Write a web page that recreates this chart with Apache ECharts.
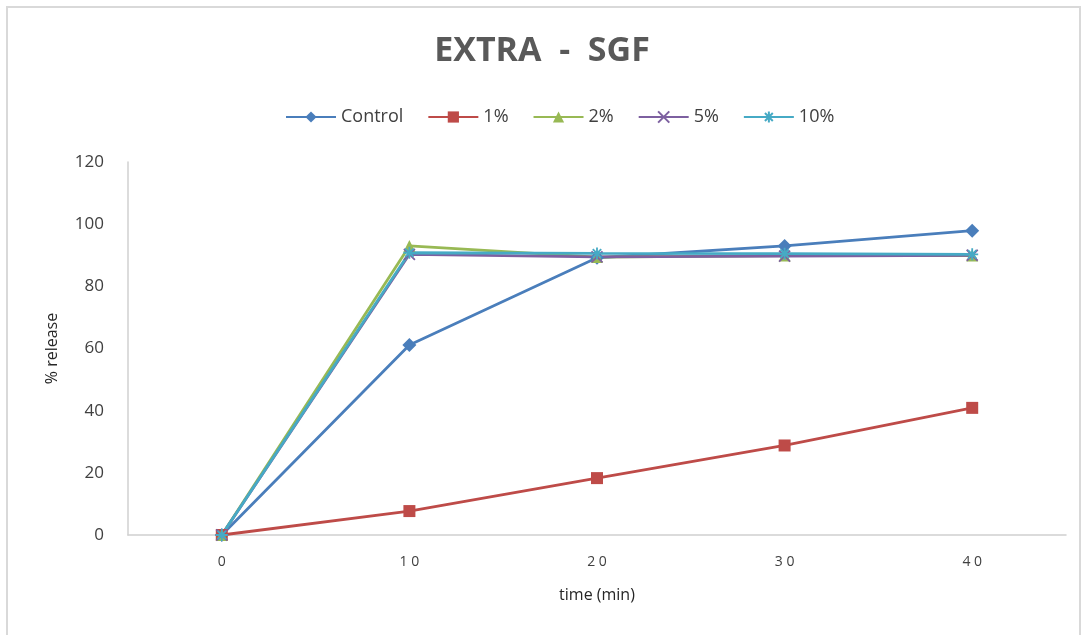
<!DOCTYPE html>
<html><head><meta charset="utf-8">
<script src="https://cdn.jsdelivr.net/npm/echarts@6/dist/echarts.min.js"></script>
<style>html,body{margin:0;padding:0;background:#fff}#c{width:1084px;height:635px}</style>
</head><body><div id="c"></div>
<script>
const categories = ['0', '1 0', '2 0', '3 0', '4 0'];
const yTicks = [0, 20, 40, 60, 80, 100, 120];
const control = [0, 61.1, 89.2, 93.0, 97.9];
const pct1 = [0, 7.7, 18.3, 28.8, 40.9];
const pct2 = [0, 93.0, 89.4, 89.9, 89.9];
const pct5 = [0, 90.3, 89.5, 89.7, 90.0];
const pct10 = [0, 90.8, 90.6, 90.5, 90.3];

const crossPath = 'path://M0,0 L10,10 M10,0 L0,10';
const starPath = 'path://M0,5 L10,5 M5,0 L5,10 M1.5,1.5 L8.5,8.5 M8.5,1.5 L1.5,8.5';

function mk(name, data, color, symbol, size, stroke) {
  return {
    name, type: 'line', data, symbol, symbolSize: size,
    lineStyle: { color, width: 2.8 },
    itemStyle: stroke ? { color: 'none', borderColor: color, borderWidth: 1.8 } : { color, borderColor: color, borderWidth: 0 },
    emphasis: { disabled: true }, animation: false
  };
}

const chart = echarts.init(document.getElementById('c'));
chart.setOption({
  backgroundColor: '#fff',
  animation: false,
  title: {
    text: 'EXTRA  -  SGF', left: 'center', top: 29,
    textStyle: { fontFamily: 'Open Sans', fontSize: 34, fontWeight: 'bold', color: '#595959' }
  },
  legend: {
    top: 103, left: 280, itemWidth: 50, itemHeight: 14, itemGap: 24,
    textStyle: { fontFamily: 'Open Sans', fontSize: 18, color: '#404040' },
    data: ['Control', '1%', '2%', '5%', '10%']
  },
  graphic: [{ type: 'rect', shape: { x: 7, y: 7, width: 1073, height: 640 }, style: { fill: 'none', stroke: '#d9d9d9', lineWidth: 2 }, silent: true }],
  grid: { left: 128, right: 18, top: 162, bottom: 100 },
  xAxis: {
    type: 'category', data: categories, boundaryGap: true,
    name: 'time (min)', nameLocation: 'middle', nameGap: 52,
    nameTextStyle: { fontFamily: 'Open Sans', fontSize: 16, color: '#262626' },
    axisLine: { lineStyle: { color: '#d0d0d0', width: 1.5 } },
    axisTick: { show: false },
    axisLabel: { fontFamily: 'Open Sans', fontSize: 14, color: '#404040', margin: 20 }
  },
  yAxis: {
    type: 'value', min: yTicks[0], max: yTicks[yTicks.length - 1], interval: 20,
    name: '% release', nameLocation: 'middle', nameGap: 68,
    nameTextStyle: { fontFamily: 'Open Sans', fontSize: 16, color: '#262626' },
    axisLine: { show: true, lineStyle: { color: '#d0d0d0', width: 1.5 } },
    axisTick: { show: false },
    splitLine: { show: false },
    axisLabel: { fontFamily: 'Open Sans', fontSize: 17, color: '#404040', margin: 24 }
  },
  series: [
    mk('Control', control, '#4A7EBB', 'diamond', 14, false),
    mk('1%', pct1, '#BE4B48', 'rect', 12, false),
    mk('2%', pct2, '#98B954', 'triangle', 12, false),
    mk('5%', pct5, '#7D60A0', crossPath, 11, true),
    mk('10%', pct10, '#46AAC5', starPath, 12, true)
  ]
});
</script></body></html>
